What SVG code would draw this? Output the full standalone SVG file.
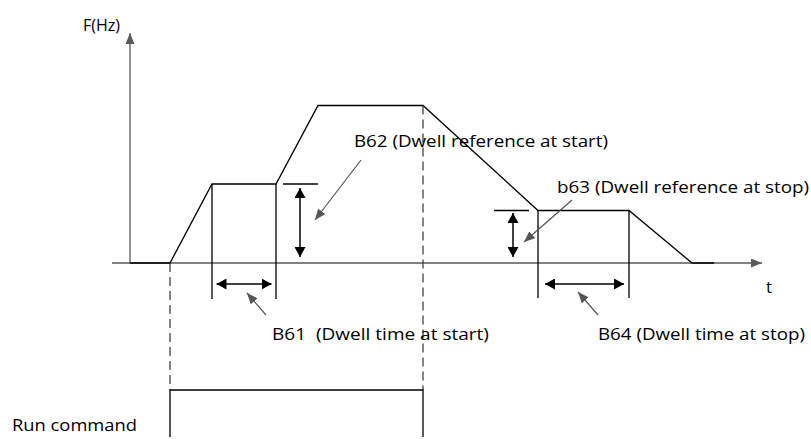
<svg xmlns="http://www.w3.org/2000/svg" width="811" height="439" viewBox="0 0 811 439">
  <style>
    .txt { font-family: "Open Sans", "Liberation Sans", Arial, sans-serif; font-size: 17px; fill: #000; }
    .axis { stroke: #595959; stroke-width: 1.3; fill: none; }
    .curve { stroke: #000; stroke-width: 1.3; fill: none; }
    .dash { stroke: #333; stroke-width: 1.2; fill: none; stroke-dasharray: 9 5; }
    .dim { stroke: #000; stroke-width: 1.5; fill: none; }
    .leader { stroke: #555; stroke-width: 1.2; fill: none; }
  </style>
  <defs>
    <marker id="axisHead" markerUnits="userSpaceOnUse" markerWidth="11" markerHeight="9" refX="11" refY="4.5" orient="auto">
      <path d="M0,0 L11,4.5 L0,9 z" fill="#595959"/>
    </marker>
    <marker id="dimHead" markerUnits="userSpaceOnUse" markerWidth="10" markerHeight="11" refX="10" refY="5.5" orient="auto-start-reverse">
      <path d="M0,0 L10,5.5 L0,11 z" fill="#000"/>
    </marker>
    <marker id="leadHead" markerUnits="userSpaceOnUse" markerWidth="11" markerHeight="9" refX="11" refY="4.5" orient="auto">
      <path d="M0,0 L11,4.5 L0,9 z" fill="#555"/>
    </marker>
  </defs>

  <g id="axes">
    <line class="axis" x1="130" y1="263" x2="130" y2="33" marker-end="url(#axisHead)"/>
    <line class="axis" x1="112" y1="263" x2="762" y2="263" marker-end="url(#axisHead)"/>
    <text class="txt" x="83" y="31" textLength="37" lengthAdjust="spacingAndGlyphs">F(Hz)</text>
    <text class="txt" x="766" y="293">t</text>
  </g>

  <g id="frequency-curve">
    <path class="curve" d="M130,263 H170 L212,184 H276 L318,105.5 H423 L538,210.5 H629 L692,263 H714"/>
    <line class="curve" x1="212" y1="184" x2="212" y2="299"/>
    <line class="curve" x1="276" y1="184" x2="276" y2="299"/>
    <line class="curve" x1="538" y1="210.5" x2="538" y2="298"/>
    <line class="curve" x1="629" y1="210.5" x2="629" y2="298"/>
    <line class="curve" x1="283" y1="184" x2="318" y2="184"/>
    <line class="curve" x1="494" y1="210.5" x2="529" y2="210.5"/>
  </g>

  <g id="connectors">
    <line class="dash" x1="170" y1="263" x2="170" y2="390"/>
    <line class="dash" x1="423" y1="105.5" x2="423" y2="390"/>
    <line class="dim" x1="300" y1="188" x2="300" y2="257" marker-start="url(#dimHead)" marker-end="url(#dimHead)"/>
    <line class="dim" x1="216.5" y1="284" x2="271.5" y2="284" marker-start="url(#dimHead)" marker-end="url(#dimHead)"/>
    <line class="dim" x1="513" y1="213" x2="513" y2="257" marker-start="url(#dimHead)" marker-end="url(#dimHead)"/>
    <line class="dim" x1="545" y1="284" x2="624" y2="284" marker-start="url(#dimHead)" marker-end="url(#dimHead)"/>
    <line class="leader" x1="361" y1="160" x2="315" y2="220" marker-end="url(#leadHead)"/>
    <line class="leader" x1="572" y1="200" x2="524" y2="242" marker-end="url(#leadHead)"/>
    <line class="leader" x1="266" y1="315" x2="247" y2="293" marker-end="url(#leadHead)"/>
    <line class="leader" x1="598" y1="315" x2="578" y2="292" marker-end="url(#leadHead)"/>
  </g>

  <g id="label-b62">
    <text class="txt" x="354" y="147" textLength="254" lengthAdjust="spacingAndGlyphs">B62 (Dwell reference at start)</text>
  </g>
  <g id="label-b63">
    <text class="txt" x="557" y="193" textLength="252" lengthAdjust="spacingAndGlyphs">b63 (Dwell reference at stop)</text>
  </g>
  <g id="label-b61">
    <text class="txt" x="272" y="340" textLength="217" lengthAdjust="spacingAndGlyphs" xml:space="preserve">B61  (Dwell time at start)</text>
  </g>
  <g id="label-b64">
    <text class="txt" x="598" y="340" textLength="207" lengthAdjust="spacingAndGlyphs">B64 (Dwell time at stop)</text>
  </g>

  <g id="run-command">
    <path class="curve" d="M170,437 V390 H423 V437"/>
    <text class="txt" x="12" y="431" textLength="125" lengthAdjust="spacingAndGlyphs">Run command</text>
  </g>
</svg>
